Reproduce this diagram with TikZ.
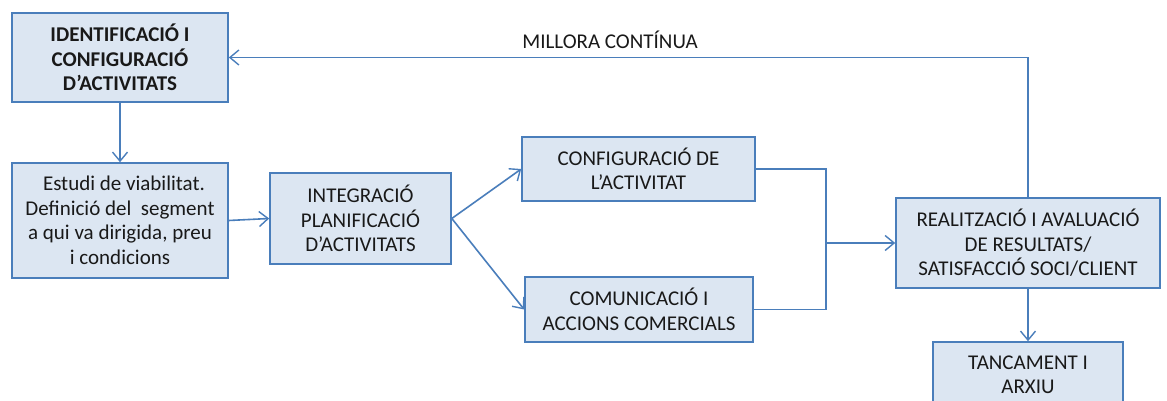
\documentclass[tikz,border=0pt]{standalone}
\usepackage{fontspec}
\setmainfont{Carlito}
\usetikzlibrary{arrows.meta}
\definecolor{bord}{HTML}{4A7EBB}
\definecolor{boxfill}{HTML}{DCE6F2}
\begin{document}
\begin{tikzpicture}[x=1pt,y=-1pt,
  box/.style={draw=bord,fill=boxfill,line width=1.6pt,rectangle,align=center,inner sep=0pt,
    font=\fontsize{21}{24.5}\selectfont,text=black!90},
  conn/.style={draw=bord,line width=1.6pt},
  arr/.style={conn,-{Straight Barb[length=9pt,width=15pt,line width=1.4pt]}}]
\clip (0,0) rectangle (1167,401);
\useasboundingbox (0,0) rectangle (1167,401);
\fill[white] (0,0) rectangle (1167,401);
\node[box,minimum width=216pt,minimum height=89pt,font=\fontsize{21}{24.5}\selectfont\bfseries] (b1) at (120,57.5) {IDENTIFICACIÓ I\\CONFIGURACIÓ\\D’ACTIVITATS};
\node[box,minimum width=216pt,minimum height=115pt] (b2) at (120,220.5) {\hspace*{8pt}Estudi de viabilitat.\\Definició del\ \ segment\\a qui va dirigida, preu\\i condicions};
\node[box,minimum width=181pt,minimum height=91pt] (b3) at (360.5,218.5) {INTEGRACIÓ\\PLANIFICACIÓ\\D’ACTIVITATS};
\node[box,minimum width=233pt,minimum height=64pt] (b4) at (638.5,169) {CONFIGURACIÓ DE\\L’ACTIVITAT};
\node[box,minimum width=228pt,minimum height=65pt] (b5) at (639,309.5) {COMUNICACIÓ I\\ACCIONS COMERCIALS};
\node[box,minimum width=264pt,minimum height=90pt] (b6) at (1028,243) {REALITZACIÓ I AVALUACIÓ\\DE RESULTATS/\\SATISFACCIÓ SOCI/CLIENT};
\node[box,minimum width=190pt,minimum height=66pt] (b7) at (1028,375) {TANCAMENT I\\ARXIU};
\coordinate (j) at (826,243);
\node[font=\fontsize{21}{24.5}\selectfont,text=black!90] (lbl) at (610,40) {MILLORA CONTÍNUA};
\draw[arr] (b1.south) -- (b2.north);
\draw[arr] (b2.east) -- (b3.west);
\draw[arr] (b3.east) -- (b4.west);
\draw[arr] (b3.east) -- (b5.west);
\draw[conn] (b4.east) -| (j);
\draw[conn] (b5.east) -| (j);
\draw[arr] (j) -- (b6.west);
\draw[arr] (b6.north) |- (b1.east);
\draw[arr] (b6.south) -- (b7.north);
\end{tikzpicture}
\end{document}
